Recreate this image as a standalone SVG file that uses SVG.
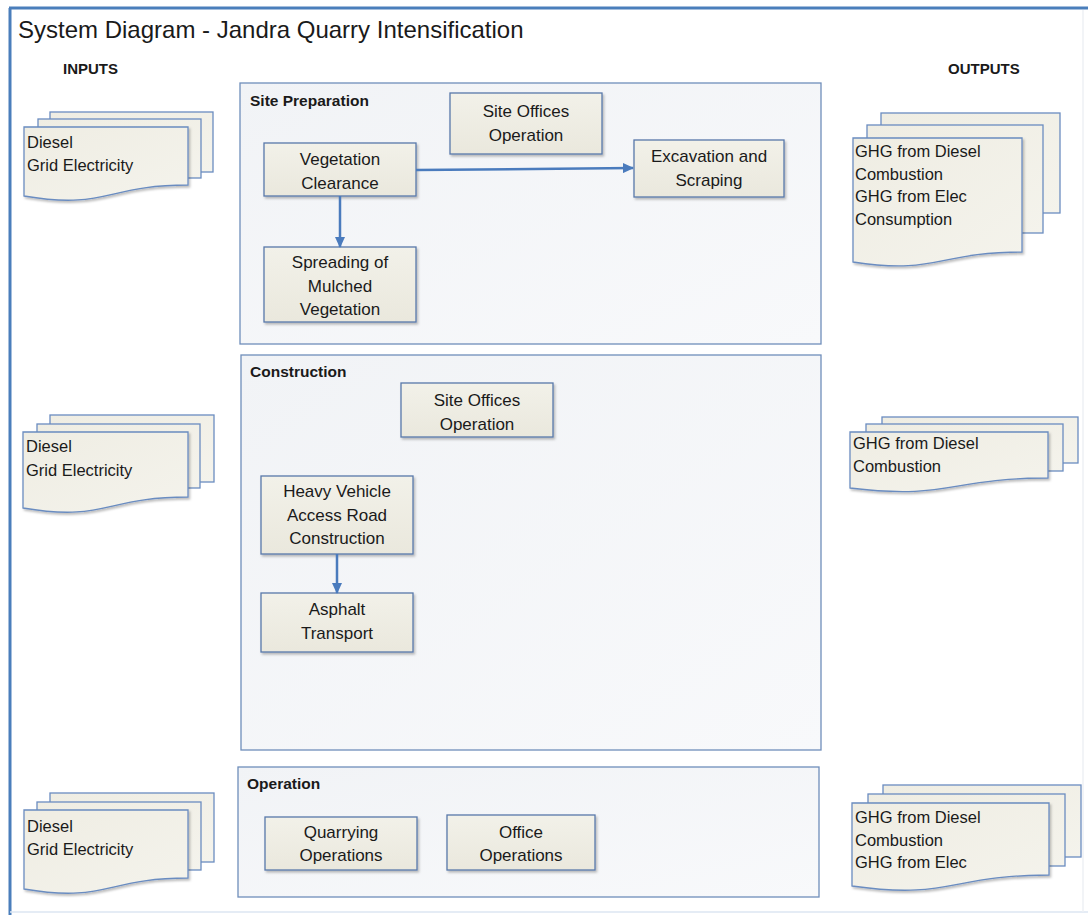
<svg xmlns="http://www.w3.org/2000/svg" width="1088" height="915" viewBox="0 0 1088 915">
<defs>
<linearGradient id="gPanel" x1="0" y1="0" x2="1" y2="1">
<stop offset="0" stop-color="#F1F3F6"/>
<stop offset="1" stop-color="#F8F9FB"/>
</linearGradient>
<linearGradient id="gNode" x1="0" y1="0" x2="0" y2="1">
<stop offset="0" stop-color="#F2F1E9"/>
<stop offset="1" stop-color="#EAE8DD"/>
</linearGradient>
<linearGradient id="gDoc" x1="0" y1="0" x2="1" y2="1">
<stop offset="0" stop-color="#EFEDE3"/>
<stop offset="1" stop-color="#F4F3EC"/>
</linearGradient>
<marker id="ah" markerWidth="11" markerHeight="10" refX="10" refY="5" orient="auto" markerUnits="userSpaceOnUse">
<path d="M0,0 L11,5 L0,10 Z" fill="#4A7BBD"/>
</marker>
<filter id="sh" x="-10%" y="-10%" width="130%" height="140%">
<feDropShadow dx="1.5" dy="2" stdDeviation="1.2" flood-color="#000" flood-opacity="0.25"/>
</filter>
</defs>
<style>
.frame{stroke:#4A7EBB;stroke-width:3;fill:none}
.panel{fill:url(#gPanel);stroke:#6F8EBA;stroke-width:1.3}
.node{fill:url(#gNode);stroke:#5878AA;stroke-width:1.3;filter:url(#sh)}
.doc{fill:url(#gDoc);stroke:#6A8CC0;stroke-width:1.3}
.docf{fill:url(#gDoc);stroke:#6A8CC0;stroke-width:1.3;filter:url(#sh)}
.title{font-family:"Liberation Sans",Arial,sans-serif;font-size:24px;fill:#1a1a1a}
.hdr{font-family:"Liberation Sans",Arial,sans-serif;font-size:15px;font-weight:bold;fill:#1a1a1a}
.plab{font-family:"Liberation Sans",Arial,sans-serif;font-size:15.5px;font-weight:bold;fill:#1a1a1a}
.nt{font-family:"Liberation Sans",Arial,sans-serif;font-size:17px;fill:#1a1a1a;text-anchor:middle}
.dt{font-family:"Liberation Sans",Arial,sans-serif;font-size:16.5px;fill:#1a1a1a}
.conn{stroke:#4A7BBD;stroke-width:2.5;fill:none;marker-end:url(#ah)}
</style>
<rect x="0" y="0" width="1088" height="915" fill="#FFFFFF"/>
<g id="frame">
<line x1="9" y1="8" x2="1088" y2="8" class="frame"/>
<line x1="10" y1="8" x2="10" y2="915" class="frame"/>
<line x1="10" y1="912" x2="1088" y2="912" stroke="#DCE6F2" stroke-width="1.5"/>
<line x1="1083" y1="10" x2="1083" y2="912" stroke="#EEF1F5" stroke-width="1.5"/>
</g>
<g id="title">
<text x="18" y="38" class="title">System Diagram - Jandra Quarry Intensification</text>
<text x="63" y="74" class="hdr">INPUTS</text>
<text x="948" y="74" class="hdr">OUTPUTS</text>
</g>

<g id="panel-site-preparation">
<rect x="240" y="83" width="581" height="261" class="panel"/>
<text x="250" y="106" class="plab">Site Preparation</text>
</g>
<g id="panel-construction">
<rect x="241" y="355" width="580" height="395" class="panel"/>
<text x="250" y="377" class="plab">Construction</text>
</g>
<g id="panel-operation">
<rect x="238" y="767" width="581" height="130" class="panel"/>
<text x="247" y="789" class="plab">Operation</text>
</g>

<g id="sp-site-offices">
<rect x="450" y="93" width="152" height="61" class="node"/>
<text x="526" y="117" class="nt">Site Offices</text>
<text x="526" y="141" class="nt">Operation</text>
</g>
<g id="sp-vegetation-clearance">
<rect x="264" y="143" width="152" height="53" class="node"/>
<text x="340" y="165" class="nt">Vegetation</text>
<text x="340" y="189" class="nt">Clearance</text>
</g>
<g id="sp-excavation">
<rect x="634" y="140" width="150" height="57" class="node"/>
<text x="709" y="162" class="nt">Excavation and</text>
<text x="709" y="186" class="nt">Scraping</text>
</g>
<g id="sp-spreading">
<rect x="264" y="247" width="152" height="75" class="node"/>
<text x="340" y="268" class="nt">Spreading of</text>
<text x="340" y="292" class="nt">Mulched</text>
<text x="340" y="315" class="nt">Vegetation</text>
</g>

<g id="c-site-offices">
<rect x="401" y="383" width="152" height="54" class="node"/>
<text x="477" y="406" class="nt">Site Offices</text>
<text x="477" y="430" class="nt">Operation</text>
</g>
<g id="c-heavy-vehicle">
<rect x="261" y="476" width="152" height="78" class="node"/>
<text x="337" y="497" class="nt">Heavy Vehicle</text>
<text x="337" y="521" class="nt">Access Road</text>
<text x="337" y="544" class="nt">Construction</text>
</g>
<g id="c-asphalt">
<rect x="261" y="593" width="152" height="59" class="node"/>
<text x="337" y="615" class="nt">Asphalt</text>
<text x="337" y="639" class="nt">Transport</text>
</g>

<g id="o-quarrying">
<rect x="265" y="817" width="152" height="53" class="node"/>
<text x="341" y="838" class="nt">Quarrying</text>
<text x="341" y="861" class="nt">Operations</text>
</g>
<g id="o-office">
<rect x="447" y="815" width="148" height="55" class="node"/>
<text x="521" y="838" class="nt">Office</text>
<text x="521" y="861" class="nt">Operations</text>
</g>

<g id="connectors">
<path d="M416,170 L633,168" class="conn"/>
<path d="M340,196 L340,247" class="conn"/>
<path d="M337,554 L337,593" class="conn"/>
</g>

<g id="inputs-site-preparation">
<rect x="50" y="112" width="163" height="60" class="doc"/>
<rect x="38" y="119" width="163" height="59" class="doc"/>
<path d="M24,127 H188 V185 C106,185 106,210 24,196 Z" class="docf"/>
<text x="27" y="148" class="dt">Diesel</text>
<text x="27" y="171" class="dt">Grid Electricity</text>
</g>
<g id="inputs-construction">
<rect x="50" y="415" width="164" height="67" class="doc"/>
<rect x="37" y="424" width="163" height="64" class="doc"/>
<path d="M23,432 H188 V497 C105,497 105,522 23,508 Z" class="docf"/>
<text x="26" y="452" class="dt">Diesel</text>
<text x="26" y="476" class="dt">Grid Electricity</text>
</g>
<g id="inputs-operation">
<rect x="50" y="793" width="164" height="69" class="doc"/>
<rect x="37" y="802" width="164" height="68" class="doc"/>
<path d="M24,810 H188 V878 C106,878 106,903 24,889 Z" class="docf"/>
<text x="27" y="832" class="dt">Diesel</text>
<text x="27" y="855" class="dt">Grid Electricity</text>
</g>

<g id="outputs-site-preparation">
<rect x="881" y="113" width="179" height="100" class="doc"/>
<rect x="867" y="125" width="176" height="108" class="doc"/>
<path d="M853,138 H1022 V252 C937,252 937,275 853,262 Z" class="docf"/>
<text x="855" y="157" class="dt">GHG from Diesel</text>
<text x="855" y="180" class="dt">Combustion</text>
<text x="855" y="202" class="dt">GHG from Elec</text>
<text x="855" y="225" class="dt">Consumption</text>
</g>
<g id="outputs-construction">
<rect x="882" y="417" width="196" height="46" class="doc"/>
<rect x="866" y="424" width="197" height="47" class="doc"/>
<path d="M850,432 H1048 V478 C949,478 949,500 850,488 Z" class="docf"/>
<text x="853" y="449" class="dt">GHG from Diesel</text>
<text x="853" y="472" class="dt">Combustion</text>
</g>
<g id="outputs-operation">
<rect x="883" y="785" width="198" height="72" class="doc"/>
<rect x="868" y="794" width="197" height="72" class="doc"/>
<path d="M852,803 H1049 V875 C950,875 950,900 852,886 Z" class="docf"/>
<text x="855" y="823" class="dt">GHG from Diesel</text>
<text x="855" y="846" class="dt">Combustion</text>
<text x="855" y="868" class="dt">GHG from Elec</text>
</g>
</svg>
